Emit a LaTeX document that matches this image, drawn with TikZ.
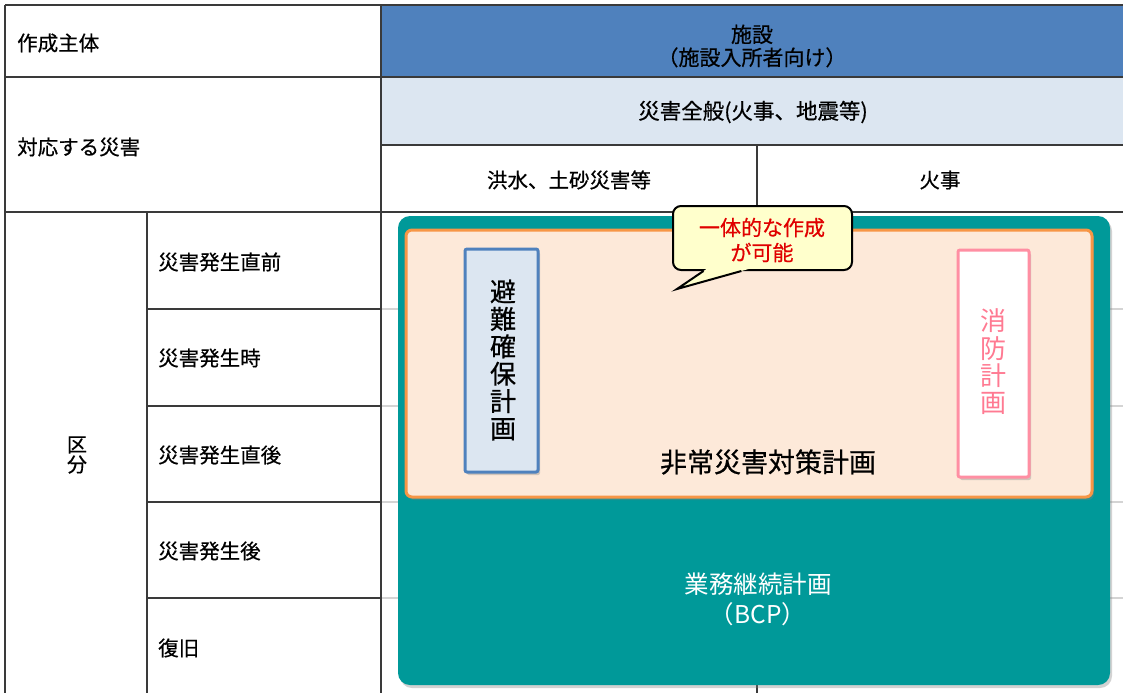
\documentclass[tikz,border=0pt]{standalone}
\usepackage{fontspec}
\setmainfont{Noto Sans CJK JP}
\newfontfamily\medfont{Noto Sans CJK JP}[FakeBold=0.6]
\usetikzlibrary{shadows}
\definecolor{hdrblue}{HTML}{4F81BD}
\definecolor{lightblue}{HTML}{DCE6F1}
\definecolor{teal2}{HTML}{009999}
\definecolor{orangeb}{HTML}{F79646}
\definecolor{orangef}{HTML}{FDE9D9}
\definecolor{pinkb}{HTML}{FF8FA3}
\definecolor{pinkt}{HTML}{FF7A92}
\definecolor{callfill}{HTML}{FFFFCC}
\definecolor{callred}{HTML}{E00000}
\definecolor{gridc}{HTML}{3A3A3A}
\definecolor{gridl}{HTML}{D4D4D4}
\tikzset{
  gridline/.style={draw=gridc, line width=1.3pt},
  gridlight/.style={draw=gridl, line width=1.2pt},
  lbl/.style={font=\medfont\fontsize{20.5}{22}\selectfont, inner sep=0pt, anchor=west},
  ctr/.style={font=\medfont\fontsize{20.5}{23}\selectfont, inner sep=0pt, align=center},
  planbox/.style={inner sep=0pt, outer sep=0pt, line width=3pt},
  vtext/.style={font=\fontsize{26}{27.4}\selectfont, inner sep=0pt, align=center},
  shad/.style={drop shadow={opacity=0.35, shadow xshift=2pt, shadow yshift=-3pt}}
}
\begin{document}
\begin{tikzpicture}[x=1pt,y=-1pt]
\useasboundingbox (0,0) rectangle (1123,693);
\fill[white] (0,0) rectangle (1123,693);
% header fills
\fill[hdrblue] (381,5) rectangle (1123,77);
\fill[lightblue] (381,77) rectangle (1123,145);
% row lines
\foreach \yy in {309,406,502,598} {
  \draw[gridlight] (381,\yy) -- (1123,\yy);
  \draw[gridline] (147,\yy) -- (381,\yy);
}
% grid
\draw[gridline] (5,5) -- (1123,5);
\draw[gridline] (5,77) -- (1123,77);
\draw[gridline] (381,145) -- (1123,145);
\draw[gridline] (5,212) -- (1123,212);
\draw[gridline] (5,5) -- (5,693);
\draw[gridline] (147,212) -- (147,693);
\draw[gridline] (381,5) -- (381,693);
\draw[gridline] (757,145) -- (757,693);
% texts in table
\node[lbl] (sakusei) at (17,43) {作成主体};
\node[lbl] (taiou) at (17,147) {対応する災害};
\node[ctr, font=\medfont\fontsize{20}{20}\selectfont] (kubun) at (77,455) {区\\分};
\node[lbl] (r1) at (158,262) {災害発生直前};
\node[lbl] (r2) at (158,358) {災害発生時};
\node[lbl] (r3) at (158,455) {災害発生直後};
\node[lbl] (r4) at (158,551) {災害発生後};
\node[lbl] (r5) at (158,648) {復旧};
\node[ctr, font=\medfont\fontsize{21}{23}\selectfont] (shisetsu) at (752,46) {施設\\（施設入所者向け）};
\node[ctr, font=\medfont\fontsize{21.5}{23}\selectfont] (zenpan) at (753,112) {災害全般(火事、地震等)};
\node[ctr] (kouzui) at (569,180) {洪水、土砂災害等};
\node[ctr] (kaji) at (940,180) {火事};
% BCP box
\node[planbox, fill=teal2, rounded corners=12pt, minimum width=712pt, minimum height=469pt, shad] (bcp) at (754,450.5) {};
\node[font=\fontsize{24.5}{30}\selectfont, text=white, align=center, inner sep=0pt] (bcptext) at (758,599) {業務継続計画\\（BCP）};
% emergency plan box
\node[planbox, draw=orangeb, fill=orangef, rounded corners=6pt, minimum width=686pt, minimum height=267pt, shad] (hijou) at (749,363.5) {};
\node[font=\medfont\fontsize{27}{28}\selectfont, inner sep=0pt] (hijoutext) at (768,462) {非常災害対策計画};
% evacuation plan box
\node[planbox, draw=hdrblue, fill=lightblue, rounded corners=2pt, minimum width=73pt, minimum height=223pt, shad] (hinan) at (501.5,360.5) {};
\node[vtext, font=\medfont\fontsize{26}{27.4}\selectfont] (hinantext) at (503,360) {避\\難\\確\\保\\計\\画};
% fire plan box
\node[planbox, draw=pinkb, fill=white, rounded corners=2pt, minimum width=71pt, minimum height=227pt, shad] (shoubou) at (993.5,363.5) {};
\node[vtext, text=pinkt] (shouboutext) at (993,362) {消\\防\\計\\画};
% callout
\node[draw=black, line width=2pt, fill=callfill, rounded corners=8pt, minimum width=179pt, minimum height=64pt, inner sep=0pt] (call) at (762.5,238) {};
\node[font=\medfont\fontsize{21}{25}\selectfont, text=callred, align=center, inner sep=0pt] (calltext) at (762,240) {一体的な作成\\が可能};
\coordinate (tip) at (677,289);
\fill[callfill] (710.9,266) -- (tip) -- (759.3,266) -- cycle;
\draw[line width=2pt, line join=miter] (703.5,271) -- (tip) -- (741.4,271);
\end{tikzpicture}
\end{document}
